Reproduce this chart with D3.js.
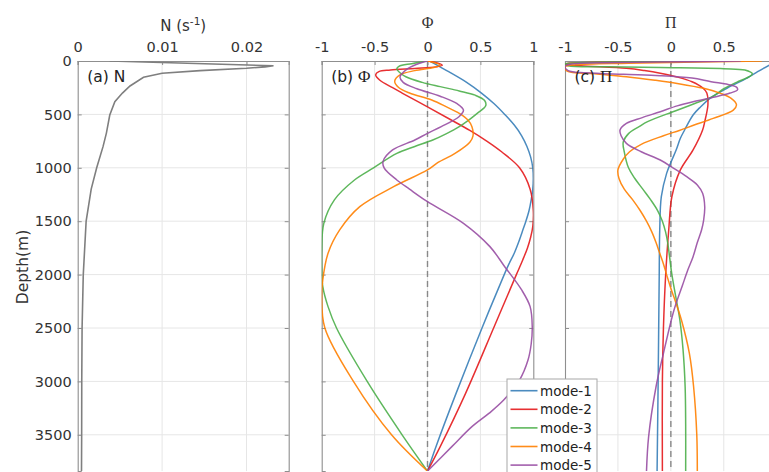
<!DOCTYPE html>
<html>
<head>
<meta charset="utf-8">
<script src="https://cdn.jsdelivr.net/npm/d3@7"></script>
<style>
  html, body { margin: 0; padding: 0; background: #fff; }
  svg { display: block; font-family: "DejaVu Sans", sans-serif; }
</style>
</head>
<body>
<svg id="chart" width="769" height="472"></svg>
<script>
// ---------------- DATA ----------------
const depthTicks = [0, 500, 1000, 1500, 2000, 2500, 3000, 3500];
const nTicks = [0, 0.01, 0.02];
const modeTicks = [-1, -0.5, 0, 0.5, 1];
const modeNames = ["mode-1", "mode-2", "mode-3", "mode-4", "mode-5"];
const modeColors = ["#377eb8", "#e41a1c", "#4daf4a", "#ff7f00", "#984ea3"];

// Buoyancy frequency N (s^-1): [depth, value]
const nProfile = [[0,0.0038],[45,0.0232],[55,0.0222],[68,0.0200],[90,0.0145],[115,0.0100],[153,0.0078],[234,0.0062],[300,0.0053],[381,0.0044],[506,0.0038],[675,0.0034],[802,0.0030],[1000,0.00225],[1200,0.0016],[1500,0.0010],[2000,0.00066],[2500,0.00052],[3000,0.00048],[3500,0.00047],[3840,0.00045]];

// Vertical structure Phi: [depth, value]
const phi1 = [[0,0.02],[50,0.11],[100,0.2],[200,0.37],[300,0.51],[400,0.63],[500,0.73],[600,0.82],[700,0.89],[800,0.94],[900,0.975],[1000,0.995],[1100,1.0],[1200,0.995],[1300,0.98],[1400,0.96],[1500,0.93],[1600,0.895],[1700,0.86],[1800,0.82],[1900,0.77],[2000,0.725],[2488,0.52],[3112,0.27],[3611,0.08],[3840,0]];
const phi2 = [[0,0],[20,0.1],[40,0.14],[55,0.08],[70,-0.12],[85,-0.35],[100,-0.46],[130,-0.49],[180,-0.45],[250,-0.33],[300,-0.24],[430,0],[550,0.22],[650,0.4],[750,0.56],[850,0.7],[1000,0.87],[1200,0.97],[1400,1.0],[1550,0.995],[1650,0.975],[1750,0.945],[1863,0.9],[2000,0.84],[2488,0.63],[3112,0.36],[3611,0.12],[3840,0]];
const phi3 = [[0,0],[25,-0.15],[50,-0.27],[75,-0.29],[110,-0.26],[150,-0.2],[200,-0.05],[240,0.12],[280,0.3],[320,0.45],[370,0.54],[420,0.55],[490,0.47],[560,0.38],[615,0.3],[680,0.18],[740,0.05],[800,-0.12],[865,-0.29],[1000,-0.51],[1114,-0.69],[1300,-0.88],[1520,-0.98],[1770,-1.0],[1960,-1.0],[2110,-0.99],[2300,-0.94],[2500,-0.86],[3000,-0.57],[3500,-0.24],[3840,0]];
const phi4 = [[0,0],[20,0.08],[40,0.12],[60,0.06],[90,-0.12],[130,-0.26],[190,-0.31],[250,-0.27],[300,-0.17],[365,0.04],[430,0.18],[490,0.3],[550,0.38],[615,0.42],[700,0.43],[760,0.4],[865,0.26],[950,0.1],[1020,0],[1177,-0.32],[1364,-0.64],[1582,-0.83],[1800,-0.94],[2050,-0.99],[2200,-1.0],[2500,-0.97],[3000,-0.7],[3500,-0.34],[3840,0]];
const phi5 = [[0,0],[30,-0.1],[80,-0.2],[150,-0.26],[200,-0.23],[260,-0.1],[330,0.12],[400,0.28],[460,0.34],[520,0.3],[615,0.13],[677,0],[740,-0.12],[833,-0.33],[940,-0.42],[1000,-0.41],[1114,-0.29],[1200,-0.17],[1317,0],[1520,0.34],[1738,0.59],[1926,0.73],[2144,0.89],[2300,0.97],[2488,0.99],[2650,0.98],[2800,0.95],[2987,0.87],[3175,0.72],[3300,0.58],[3424,0.42],[3611,0.23],[3840,0]];

// Pressure structure Pi: [depth, value]
const pi1 = [[0,1.0],[20,0.97],[40,0.93],[100,0.82],[160,0.72],[255,0.53],[350,0.37],[430,0.28],[506,0.21],[646,0.13],[724,0.09],[833,0.05],[950,0.0],[1052,-0.04],[1270,-0.09],[1580,-0.105],[2020,-0.11],[3000,-0.12],[3840,-0.13]];
const pi2 = [[0,0.45],[5,0.0],[12,-0.7],[22,-0.97],[32,-1.0],[45,-0.85],[69,-0.42],[90,-0.25],[115,-0.1],[150,0.06],[194,0.2],[250,0.3],[300,0.34],[412,0.35],[568,0.32],[646,0.3],[833,0.21],[1020,0.09],[1270,0.01],[1582,-0.02],[2020,-0.05],[2500,-0.07],[3000,-0.08],[3840,-0.08]];
const pi3 = [[0,0.3],[6,-0.2],[15,-0.8],[28,-1.0],[45,-0.97],[55,-0.6],[62,-0.1],[72,0.5],[85,0.7],[120,0.77],[147,0.74],[200,0.62],[260,0.5],[334,0.39],[400,0.22],[468,0.04],[568,-0.22],[615,-0.3],[680,-0.4],[760,-0.45],[850,-0.44],[1000,-0.4],[1100,-0.34],[1200,-0.265],[1300,-0.19],[1400,-0.125],[1500,-0.08],[1600,-0.05],[1700,-0.03],[1850,-0.01],[2000,0.01],[2200,0.045],[2425,0.085],[2700,0.115],[3050,0.135],[3400,0.14],[3840,0.14]];
const pi4 = [[0,0.86],[8,0.4],[20,-0.4],[35,-0.9],[55,-1.0],[94,-0.98],[120,-0.72],[147,-0.42],[180,-0.15],[210,0.06],[256,0.31],[303,0.47],[350,0.57],[410,0.62],[460,0.59],[537,0.4],[600,0.22],[650,0.08],[700,-0.07],[780,-0.28],[850,-0.39],[920,-0.45],[1020,-0.5],[1100,-0.49],[1200,-0.44],[1300,-0.36],[1400,-0.29],[1500,-0.23],[1600,-0.18],[1700,-0.14],[1800,-0.105],[1900,-0.07],[2000,-0.04],[2113,-0.005],[2300,0.06],[2425,0.1],[2737,0.175],[3050,0.215],[3500,0.245],[3840,0.25]];
const pi5 = [[0,0.66],[6,0.2],[15,-0.5],[30,-0.95],[50,-1.0],[90,-0.97],[110,-0.8],[125,-0.45],[137,-0.1],[160,0.2],[194,0.38],[220,0.54],[245,0.62],[270,0.63],[300,0.56],[340,0.4],[381,0.21],[420,0.06],[475,-0.1],[530,-0.27],[584,-0.42],[646,-0.48],[700,-0.47],[771,-0.42],[850,-0.28],[927,-0.1],[1000,0.02],[1083,0.15],[1160,0.25],[1239,0.3],[1364,0.32],[1489,0.31],[1582,0.29],[1700,0.25],[1832,0.21],[1957,0.16],[2100,0.11],[2331,0.03],[2737,-0.07],[3050,-0.14],[3517,-0.21],[3840,-0.23]];

const phiSeries = [phi1, phi2, phi3, phi4, phi5];
const piSeries = [pi1, pi2, pi3, pi4, pi5];

// ---------------- LAYOUT ----------------
(function () {
const W = 769;
const svg = d3.select("#chart");
const maxDepth = 3840;
const plotTop = 61, plotBottom = 61 + maxDepth * 0.1068;
const panels = [
  { left: 77.7,  right: 288.7, domain: [0, 0.025], ticks: nTicks, fmt: d => d === 0 ? "0" : d3.format(".2f")(d), title: "N", label: "a" },
  { left: 321.7, right: 533.3, domain: [-1, 1], ticks: modeTicks, fmt: d => String(d), title: "Φ", label: "b" },
  { left: 565,   right: 776.7, domain: [-1, 1], ticks: modeTicks, fmt: d => String(d), title: "Π", label: "c" }
];

const y = d3.scaleLinear().domain([0, maxDepth]).range([plotTop, plotBottom]);
const gridColor = "#e6e6e6";
const axisColor = "#8f8f8f";
const textColor = "#333";

const defs = svg.append("defs");

panels.forEach((p, i) => {
  const x = d3.scaleLinear().domain(p.domain).range([p.left, p.right]);
  p.x = x;
  const g = svg.append("g");

  defs.append("clipPath").attr("id", "clip" + i)
    .append("rect").attr("x", p.left).attr("y", plotTop).attr("width", p.right - p.left).attr("height", plotBottom - plotTop);

  // grid
  g.selectAll(".vg").data(p.ticks.filter(t => t > p.domain[0] && t < p.domain[1]))
    .enter().append("line")
    .attr("x1", d => x(d)).attr("x2", d => x(d)).attr("y1", plotTop).attr("y2", plotBottom)
    .attr("stroke", gridColor).attr("stroke-width", 1);
  g.selectAll(".hg").data(depthTicks.filter(t => t > 0))
    .enter().append("line")
    .attr("x1", p.left).attr("x2", p.right).attr("y1", d => y(d)).attr("y2", d => y(d))
    .attr("stroke", gridColor).attr("stroke-width", 1);

  // top axis (ticks inward); labels that fall beyond the canvas edge are not shown
  const axTop = d3.axisTop(x).tickValues(p.ticks).tickSize(-4).tickPadding(12)
    .tickFormat(d => (x(d) + 6 > W ? "" : p.fmt(d)));
  const gt = g.append("g").attr("transform", `translate(0,${plotTop})`).call(axTop);
  gt.select(".domain").attr("stroke", axisColor).attr("stroke-width", 1.1);
  gt.selectAll(".tick line").attr("stroke", axisColor);
  gt.selectAll(".tick text").attr("fill", textColor).attr("font-size", "14.5px")
    .attr("font-family", "DejaVu Sans, sans-serif").attr("y", -9);

  // left axis
  const axLeft = d3.axisLeft(y).tickValues(depthTicks).tickSize(-4).tickPadding(8)
    .tickFormat(i === 0 ? d3.format("d") : () => "");
  const gl = g.append("g").attr("transform", `translate(${p.left},0)`).call(axLeft);
  gl.select(".domain").attr("stroke", axisColor).attr("stroke-width", 1.1);
  gl.selectAll(".tick line").attr("stroke", axisColor);
  gl.selectAll(".tick text").attr("fill", textColor).attr("font-size", "14.5px")
    .attr("font-family", "DejaVu Sans, sans-serif").attr("x", -6);

  // right axis
  const axRight = d3.axisRight(y).tickValues(depthTicks).tickSize(-4).tickFormat(() => "");
  const gr = g.append("g").attr("transform", `translate(${p.right},0)`).call(axRight);
  gr.select(".domain").attr("stroke", axisColor).attr("stroke-width", 1.1);
  gr.selectAll(".tick line").attr("stroke", axisColor);

  // top title
  const tt = svg.append("text").attr("x", x((p.domain[0] + p.domain[1]) / 2))
    .attr("text-anchor", "middle").attr("fill", textColor);
  if (i === 0) {
    tt.attr("y", 31).attr("font-size", "15px").attr("font-family", "DejaVu Sans, sans-serif");
    tt.append("tspan").text("N (s");
    tt.append("tspan").attr("dy", -6).attr("font-size", "10.5px").text("-1");
    tt.append("tspan").attr("dy", 6).text(")");
  } else {
    tt.attr("y", 28).attr("font-size", "16px").attr("font-family", "Liberation Serif, serif").text(p.title);
  }
});

// dashed zero lines in Phi and Pi panels
[1, 2].forEach(i => {
  const p = panels[i];
  svg.append("line").attr("x1", p.x(0)).attr("x2", p.x(0)).attr("y1", plotTop).attr("y2", plotBottom)
    .attr("stroke", "#888").attr("stroke-width", 1.4).attr("stroke-dasharray", "6,4");
});

// N profile
const lineN = d3.line().x(d => panels[0].x(d[1])).y(d => y(d[0]));
svg.append("path").datum(nProfile).attr("d", lineN)
  .attr("clip-path", "url(#clip0)")
  .attr("fill", "none").attr("stroke", "#7f7f7f").attr("stroke-width", 1.6);

// mode curves
function drawModes(series, p, clipId) {
  const ln = d3.line().x(d => p.x(d[1])).y(d => y(d[0])).curve(d3.curveCatmullRom.alpha(0.5));
  series.forEach((s, k) => {
    svg.append("path").datum(s).attr("d", ln)
      .attr("clip-path", `url(#${clipId})`)
      .attr("fill", "none").attr("stroke", modeColors[k]).attr("stroke-width", 1.5)
      .attr("stroke-opacity", 0.9);
  });
}
drawModes(phiSeries, panels[1], "clip1");
drawModes(piSeries, panels[2], "clip2");

// panel labels
function panelLabel(p, letter, greek, serif) {
  const t = svg.append("text").attr("x", p.left + 9.5).attr("y", 81.5)
    .attr("fill", "#222").attr("font-size", "15.5px").attr("font-family", "DejaVu Sans, sans-serif");
  t.append("tspan").text(`(${letter}) `);
  t.append("tspan").attr("font-family", serif ? "Liberation Serif, serif" : "DejaVu Sans, sans-serif")
    .attr("font-size", serif ? "17px" : "15.5px").text(greek);
}
panelLabel(panels[0], "a", "N", false);
panelLabel(panels[1], "b", "Φ", true);
panelLabel(panels[2], "c", "Π", true);

// y axis label
svg.append("text").attr("transform", "translate(28,267) rotate(-90)")
  .attr("text-anchor", "middle").attr("fill", textColor)
  .attr("font-size", "15.5px").attr("font-family", "DejaVu Sans, sans-serif").text("Depth(m)");

// legend
const lg = svg.append("g");
lg.append("rect").attr("x", 507).attr("y", 379).attr("width", 90).attr("height", 100)
  .attr("fill", "#fff").attr("stroke", "#a8a8a8").attr("stroke-width", 1);
modeNames.forEach((name, k) => {
  const cy = 390.7 + k * 18.6;
  lg.append("line").attr("x1", 510.5).attr("x2", 537.5).attr("y1", cy).attr("y2", cy)
    .attr("stroke", modeColors[k]).attr("stroke-width", 1.6).attr("stroke-opacity", 0.9);
  lg.append("text").attr("x", 540).attr("y", cy + 5).attr("fill", "#222")
    .attr("font-size", "13.5px").attr("font-family", "DejaVu Sans, sans-serif").text(name);
});
})();
</script>
</body>
</html>
